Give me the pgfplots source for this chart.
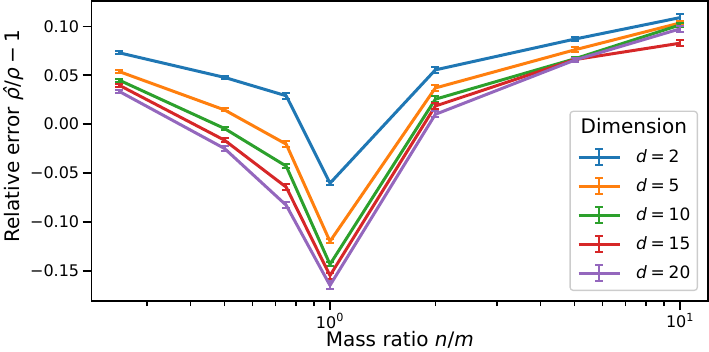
\documentclass[border=0pt]{standalone}
\usepackage{fontspec}
\setmainfont{DejaVu Sans}
\usepackage{pgfplots}
\pgfplotsset{compat=1.18}

\definecolor{c1}{HTML}{1F77B4}
\definecolor{c2}{HTML}{FF7F0E}
\definecolor{c3}{HTML}{2CA02C}
\definecolor{c4}{HTML}{D62728}
\definecolor{c5}{HTML}{9467BD}

\pgfplotsset{
  errline/.style={
    #1, line width=3pt, line join=round, mark=none,
    legend image code/.code={
      \draw[#1, line width=3pt] (0pt,0pt) -- (41pt,0pt);
      \draw[#1, line width=2pt] (20.5pt,-8pt) -- (20.5pt,8pt)
        (16.5pt,8pt) -- (24.5pt,8pt) (16.5pt,-8pt) -- (24.5pt,-8pt);
    },
    error bars/.cd, y dir=both, y explicit,
    error bar style={line width=2pt},
    error mark options={rotate=90, line width=2pt, mark size=4pt},
  },
}

\begin{document}
\begin{tikzpicture}
\begin{axis}[
  name=ax,
  scale only axis, width=616.3pt, height=300pt,
  xmode=log, xmin=0.2086, xmax=12.02,
  ymin=-0.181, ymax=0.126,
  xtick={1,10},
  xticklabels={10\textsuperscript{0},10\textsuperscript{1}},
  minor xtick={0.3,0.4,0.5,0.6,0.7,0.8,0.9,2,3,4,5,6,7,8,9},
  ytick={-0.15,-0.1,-0.05,0,0.05,0.1},
  yticklabels={−0.15,−0.10,−0.05,0.00,0.05,0.10},
  tick pos=left, tick align=outside,
  major tick length=9pt, minor tick length=5pt,
  every tick/.style={black, line width=1.6pt},
  every minor tick/.style={black, line width=1.3pt},
  axis line style={black, line width=1.6pt},
  tick label style={font=\fontsize{16}{19}\selectfont},
  label style={font=\fontsize{20}{24}\selectfont},
  xlabel={Mass ratio \textit{n}/\textit{m}},
  xlabel style={yshift=4pt},
  ylabel={Relative error \textit{ρ̂}/\textit{ρ}\hspace{0.22em}−\hspace{0.22em}1},
  ylabel style={at={(ticklabel cs:0.55)}},
  legend cell align=left,
  legend style={
    at={(axis description cs:1,0)}, anchor=south east,
    xshift=-10pt, yshift=10pt,
    draw=black!20, line width=1.3pt, rounded corners=3pt,
    fill=white, fill opacity=0.8, text opacity=1,
    inner xsep=7pt, inner ysep=8pt,
    row sep=11pt, column sep=15pt,
    font=\fontsize{17}{20}\selectfont,
    nodes={inner sep=0pt, text height=14pt, text depth=4pt},
  },
]
\addlegendimage{empty legend}
\addlegendentry{\makebox[0pt][l]{\hspace*{-56pt}\fontsize{20}{24}\selectfont Dimension}}

% d = 2
\addplot[errline=c1] coordinates {
  (0.25,0.0730) +- (0,0.0015)
  (0.5,0.0478)  +- (0,0.0018)
  (0.75,0.0290) +- (0,0.0030)
  (1,-0.0605)   +- (0,0.0020)
  (2,0.0555)    +- (0,0.0030)
  (5,0.0870)    +- (0,0.0020)
  (10,0.1090)   +- (0,0.0040)
};
\addlegendentry{\textit{d}\hspace{0.22em}=\hspace{0.22em}2}

% d = 5
\addplot[errline=c2] coordinates {
  (0.25,0.0538) +- (0,0.0015)
  (0.5,0.0145)  +- (0,0.0015)
  (0.75,-0.0205) +- (0,0.0030)
  (1,-0.1200)   +- (0,0.0020)
  (2,0.0370)    +- (0,0.0030)
  (5,0.0760)    +- (0,0.0025)
  (10,0.1035)   +- (0,0.0020)
};
\addlegendentry{\textit{d}\hspace{0.22em}=\hspace{0.22em}5}

% d = 10
\addplot[errline=c3] coordinates {
  (0.25,0.0450) +- (0,0.0015)
  (0.5,-0.0045) +- (0,0.0020)
  (0.75,-0.0430) +- (0,0.0020)
  (1,-0.1435)   +- (0,0.0020)
  (2,0.0255)    +- (0,0.0030)
  (5,0.0668)    +- (0,0.0020)
  (10,0.1015)   +- (0,0.0020)
};
\addlegendentry{\textit{d}\hspace{0.22em}=\hspace{0.22em}10}

% d = 15
\addplot[errline=c4] coordinates {
  (0.25,0.0398) +- (0,0.0015)
  (0.5,-0.0165) +- (0,0.0020)
  (0.75,-0.0645) +- (0,0.0030)
  (1,-0.1550)   +- (0,0.0030)
  (2,0.0185)    +- (0,0.0030)
  (5,0.0660)    +- (0,0.0020)
  (10,0.0828)   +- (0,0.0030)
};
\addlegendentry{\textit{d}\hspace{0.22em}=\hspace{0.22em}15}

% d = 20
\addplot[errline=c5] coordinates {
  (0.25,0.0335) +- (0,0.0015)
  (0.5,-0.0250) +- (0,0.0030)
  (0.75,-0.0830) +- (0,0.0030)
  (1,-0.1650)   +- (0,0.0040)
  (2,0.0100)    +- (0,0.0030)
  (5,0.0655)    +- (0,0.0020)
  (10,0.0975)   +- (0,0.0030)
};
\addlegendentry{\textit{d}\hspace{0.22em}=\hspace{0.22em}20}
\end{axis}
\pgfresetboundingbox
\path[use as bounding box]
  ([xshift=-91.7pt,yshift=-50pt]ax.south west)
  rectangle ([xshift=617.3pt,yshift=301pt]ax.south west);
\end{tikzpicture}
\end{document}
